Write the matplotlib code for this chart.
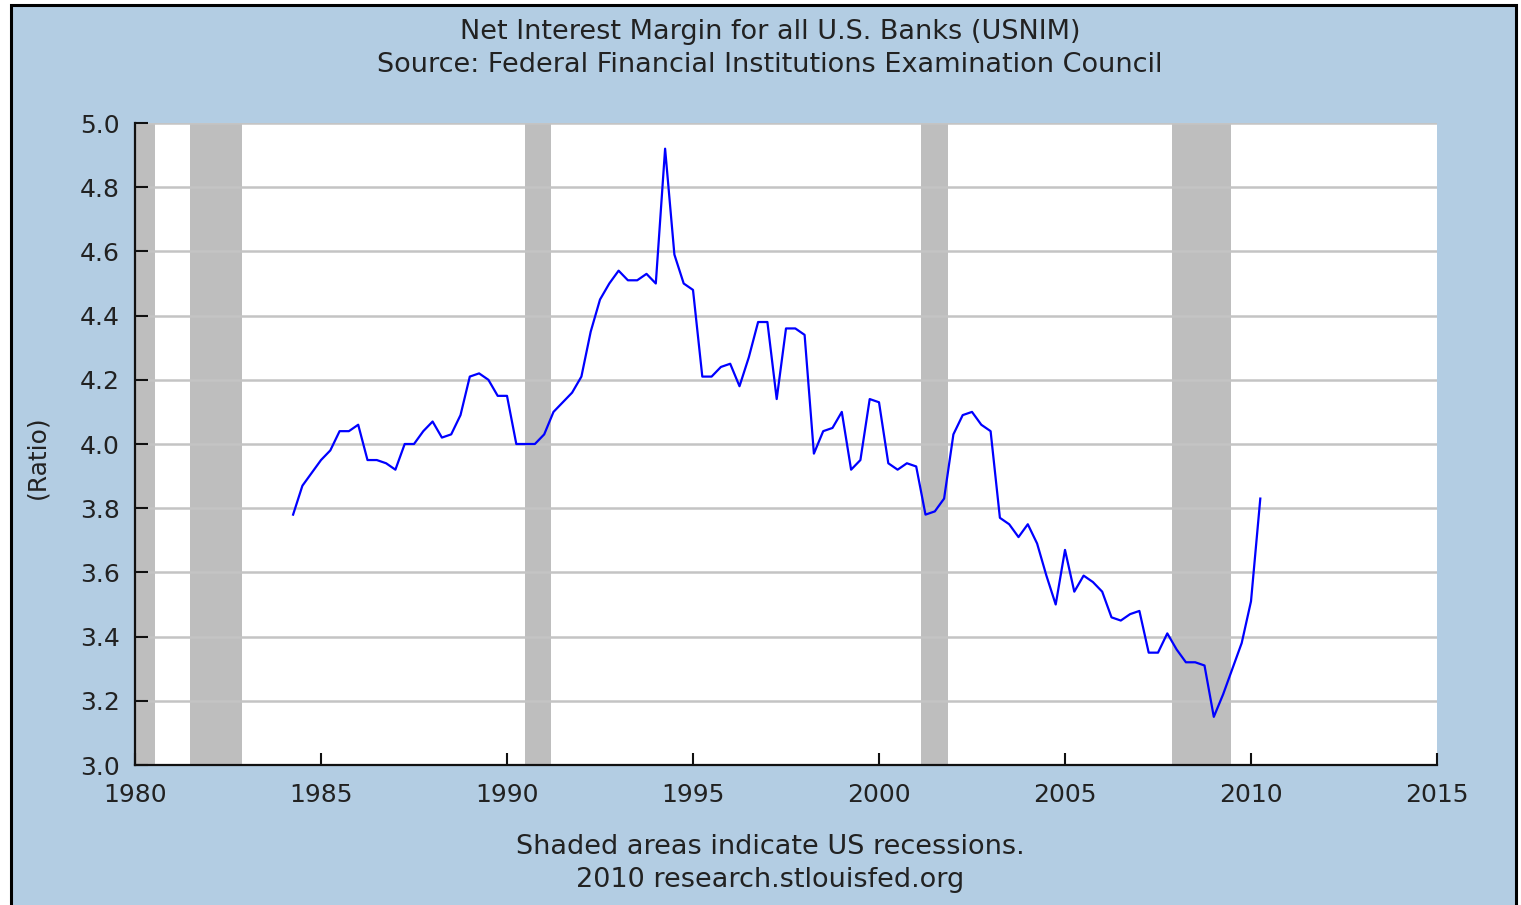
import matplotlib
matplotlib.use("Agg")
import matplotlib.pyplot as plt
from matplotlib.patches import Rectangle
import pandas as pd

# ---- data ----
start_quarter = "1984Q2"
values = [
    3.78, 3.87, 3.91, 3.95, 3.98, 4.04, 4.04, 4.06,
    3.95, 3.95, 3.94, 3.92, 4.00, 4.00, 4.04, 4.07,
    4.02, 4.03, 4.09, 4.21, 4.22, 4.20, 4.15, 4.15,
    4.00, 4.00, 4.00, 4.03, 4.10, 4.13, 4.16, 4.21,
    4.35, 4.45, 4.50, 4.54, 4.51, 4.51, 4.53, 4.50,
    4.92, 4.59, 4.50, 4.48, 4.21, 4.21, 4.24, 4.25,
    4.18, 4.27, 4.38, 4.38, 4.14, 4.36, 4.36, 4.34,
    3.97, 4.04, 4.05, 4.10, 3.92, 3.95, 4.14, 4.13,
    3.94, 3.92, 3.94, 3.93, 3.78, 3.79, 3.83, 4.03,
    4.09, 4.10, 4.06, 4.04, 3.77, 3.75, 3.71, 3.75,
    3.69, 3.59, 3.50, 3.67, 3.54, 3.59, 3.57, 3.54,
    3.46, 3.45, 3.47, 3.48, 3.35, 3.35, 3.41, 3.36,
    3.32, 3.32, 3.31, 3.15, 3.22, 3.30, 3.38, 3.51, 3.83,
]
recession_starts = [1980.0, 1981.48, 1990.48, 2001.12, 2007.87]
recession_ends = [1980.55, 1982.88, 1991.18, 2001.86, 2009.46]
x_ticks = [1980, 1985, 1990, 1995, 2000, 2005, 2010, 2015]
y_ticks = [3.0, 3.2, 3.4, 3.6, 3.8, 4.0, 4.2, 4.4, 4.6, 4.8, 5.0]
title_lines = ["Net Interest Margin for all U.S. Banks (USNIM)",
               "Source: Federal Financial Institutions Examination Council"]
footer_lines = ["Shaded areas indicate US recessions.",
                "2010 research.stlouisfed.org"]
y_label = "(Ratio)"

periods = pd.period_range(start_quarter, periods=len(values), freq="Q")
dates = [p.year + (p.quarter - 1) / 4.0 for p in periods]

# ---- style ----
BG = "#B3CDE3"
TXT = "#222222"
FS = 18
FS_T = 19.5

plt.rcParams["font.family"] = ["DejaVu Sans"]
fig = plt.figure(figsize=(15.21, 9.05), dpi=100)
fig.patch.set_facecolor("white")
bg = Rectangle((11 / 1521, -0.05), (1516 - 11) / 1521, 1.05 - 5 / 905,
               transform=fig.transFigure, facecolor=BG,
               edgecolor="black", linewidth=2.2, zorder=-10)
fig.patches.append(bg)

ax = fig.add_axes([135 / 1521, 1 - 765 / 905, (1437 - 135) / 1521, (765 - 123) / 905])
ax.set_zorder(5)
ax.set_facecolor("white")
ax.set_xlim(1980, 2015)
ax.set_ylim(3.0, 5.0)

for s, e in zip(recession_starts, recession_ends):
    ax.axvspan(s, e, color="#BEBEBE", lw=0, zorder=1)

ax.set_yticks(y_ticks)
ax.set_yticklabels([f"{v:.1f}" for v in y_ticks])
ax.set_xticks(x_ticks)
ax.set_xticklabels([str(v) for v in x_ticks])
ax.grid(axis="y", color="#C4C4C4", linewidth=1.8, zorder=2)
ax.set_axisbelow(False)

ax.plot(dates, values, color="#0000FF", linewidth=1.6, zorder=3)

for side in ["top", "right"]:
    ax.spines[side].set_visible(False)
for side in ["left", "bottom"]:
    ax.spines[side].set_color("#111111")
    ax.spines[side].set_linewidth(1.6)
    ax.spines[side].set_zorder(4)

ax.tick_params(axis="both", direction="in", length=9, width=1.5, color="#111111",
               labelsize=FS, labelcolor=TXT)
ax.tick_params(axis="y", pad=11)
ax.tick_params(axis="x", pad=13)

fig.text(37 / 1521, 1 - 457 / 905, y_label, rotation=90, ha="center", va="center",
         fontsize=FS, color=TXT)
fig.text(770 / 1521, 1 - 32 / 905, title_lines[0], ha="center", va="center", fontsize=FS_T, color=TXT)
fig.text(770 / 1521, 1 - 65 / 905, title_lines[1], ha="center", va="center", fontsize=FS_T, color=TXT)
fig.text(770 / 1521, 1 - 847 / 905, footer_lines[0], ha="center", va="center", fontsize=FS_T, color=TXT)
fig.text(770 / 1521, 1 - 880 / 905, footer_lines[1], ha="center", va="center", fontsize=FS_T, color=TXT)

fig.savefig("out.png", dpi=100, facecolor=fig.get_facecolor())
